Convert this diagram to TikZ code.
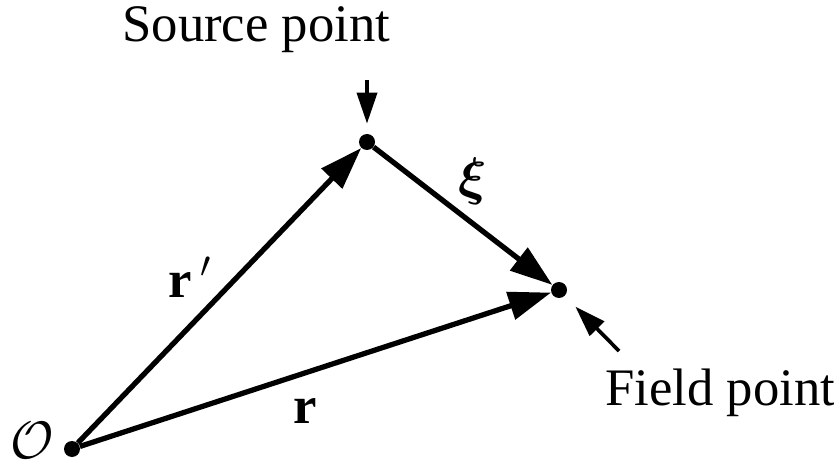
\RequirePackage{fix-cm}
\documentclass[tikz,border=0pt]{standalone}
\usepackage{amsmath}
\usepackage{fontspec}
\setmainfont{Liberation Serif}
\usetikzlibrary{arrows.meta}
\begin{document}
\begin{tikzpicture}[x=0.02cm,y=-0.02cm,
    dot/.style={circle,fill,inner sep=0pt,minimum size=0.32cm},
    vec/.style={line width=3pt,-{Triangle[length=0.85cm,width=0.56cm]}},
    pointer/.style={line width=2.1pt,-{Triangle[length=0.62cm,width=0.4cm]}},
    lbl/.style={inner sep=0pt,font=\fontsize{30}{36}\selectfont}]
\useasboundingbox (0,0) rectangle (834,469);
% points
\node[dot] (O) at (72,449) {};
\node[dot] (S) at (367,142) {};
\node[dot] (F) at (559,290) {};
% vectors
\draw[vec] (O) -- (S);
\draw[vec] (S) -- (F);
\draw[vec] (O) -- (F);
% labels
\node[lbl,anchor=base west] (origin) at (10,458) {$\mathcal{O}$};
\node[lbl,anchor=base west] (rprime) at (168,297) {\textbf{r}$\,'$};
\node[lbl,anchor=base west] (rvec) at (293,423) {\textbf{r}};
\node[lbl] (xi) at (473,181) {$\boldsymbol{\xi}$};
\node[lbl,anchor=base west] (srclbl) at (122,42) {Source point};
\node[lbl,anchor=base west] (fldlbl) at (605,405) {Field point};
% pointers
\coordinate (srctail) at (367,80);
\coordinate (fldtail) at (619,351);
\draw[pointer,shorten >=0.2cm] (srctail) -- (S);
\draw[pointer,shorten >=0.3cm] (fldtail) -- (F);
\end{tikzpicture}
\end{document}
